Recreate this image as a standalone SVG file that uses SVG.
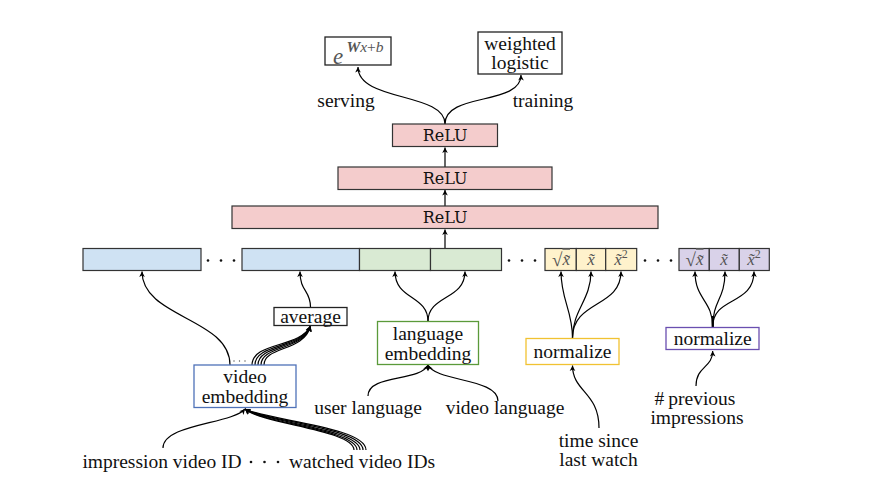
<svg xmlns="http://www.w3.org/2000/svg" width="884" height="482" viewBox="0 0 884 482">
<defs>
<marker id="arr" viewBox="-6 -4 7 8" refX="0" refY="0" markerWidth="7" markerHeight="8" markerUnits="userSpaceOnUse" orient="auto">
<path d="M0,0 L-5.5,-2.8 L-4,0 L-5.5,2.8 Z" fill="#000"/>
</marker>
</defs>
<style>
text{font-family:"Liberation Serif","Times New Roman",serif;fill:#111;text-anchor:middle;dominant-baseline:central}
.lbl{font-size:19.5px}
.relu{font-family:"DejaVu Serif",serif;font-size:16px}
.math{font-style:italic;fill:#555;font-size:17px}
.box{fill:#fff;stroke:#222;stroke-width:1.3}
.cell{stroke:#333;stroke-width:1.2}
.pink{fill:#f4cccc}.blue{fill:#cfe2f3}.green{fill:#d9ead3}.yellow{fill:#fff2cc}.purple{fill:#d9d2e9}
.c{fill:none;stroke:#000;stroke-width:1.2;marker-end:url(#arr)}
.cn{fill:none;stroke:#000;stroke-width:1.2}
.dot{fill:#111}
</style>
<rect width="884" height="482" fill="#fff"/>

<g id="connectors">
<path class="c" d="M445,124 C445,92 358,102 358,67"/>
<path class="c" d="M445,124 C445,92 521,106 521,75"/>
<path class="c" d="M445,167 L445,147.5"/>
<path class="c" d="M445,206 L445,190"/>
<path class="c" d="M445,249 L445,229.5"/>
<path class="c" d="M230,365 C230,318 142,318 142,271.5"/>
<path class="c" d="M310.5,307 C310.5,290 300,292 300,271.5"/>
<path class="c" d="M252,365 C252,342 300,348 310.5,326"/>
<path class="c" d="M255,365 C255,343 301,349 310.5,326"/>
<path class="c" d="M258,365 C258,344 302,350 310.5,326"/>
<path class="c" d="M261,365 C261,345 303,351 310.5,326"/>
<path class="c" d="M264,365 C264,346 304,352 310.5,326"/>
<path class="c" d="M428,321.5 C428,295 395,300 395,271.5"/>
<path class="c" d="M428,321.5 C428,295 465,300 465,271.5"/>
<path class="c" d="M368,396 C368,374 420,382 428,365"/>
<path class="c" d="M498,401 C498,378 436,382 428,365"/>
<path class="c" d="M572.5,338 C572.5,310 561,300 561,271.5"/>
<path class="c" d="M572.5,338 C572.5,310 591,300 591,271.5"/>
<path class="c" d="M572.5,338 C572.5,300 621,308 621,271.5"/>
<path class="c" d="M599,428 C599,392 572.5,392 572.5,365.5"/>
<path class="cn" d="M712.7,327 L712.7,316" style="stroke-width:2.2"/>
<path class="c" d="M712.7,327 C712.7,300 695,300 695,271.5"/>
<path class="c" d="M712.7,327 C712.7,300 725,300 725,271.5"/>
<path class="c" d="M712.7,327 C712.7,296 754,306 754,271.5"/>
<path class="c" d="M696,386 C696,366 712.7,368 712.7,351"/>
<path class="c" d="M163,448 C163,424 232,424 245,409"/>
<path class="c" d="M354,450 C354,430 262,424 245,409"/>
<path class="c" d="M357,450 C357,430 263,423 245,409"/>
<path class="c" d="M360,450 C360,429 264,422 245,409"/>
<path class="c" d="M363,450 C363,428 265,421 245,409"/>
<path class="c" d="M366,450 C366,427 266,420 245,409"/>
</g>

<g id="serving-out">
<rect class="box" x="325" y="37" width="66" height="28"/>
<text x="338" y="56" style="font-style:italic;fill:#555;font-size:23px">e</text>
<text x="365" y="46" style="font-style:italic;fill:#555;font-size:15.5px"><tspan font-weight="bold">W</tspan>x<tspan font-style="normal">+</tspan>b</text>
</g>
<g id="training-out">
<rect class="box" x="478" y="32" width="84" height="42"/>
<text class="lbl" x="520" y="43">weighted</text>
<text class="lbl" x="520" y="62.5">logistic</text>
</g>
<text class="lbl" x="346" y="100">serving</text>
<text class="lbl" x="543" y="100">training</text>

<g id="relu3">
<rect class="cell pink" x="392.5" y="124" width="105" height="22.5"/>
<text class="relu" x="445" y="135.5">ReLU</text>
</g>
<g id="relu2">
<rect class="cell pink" x="338" y="167" width="214" height="22.5"/>
<text class="relu" x="445" y="178.5">ReLU</text>
</g>
<g id="relu1">
<rect class="cell pink" x="232" y="206" width="426" height="22.5"/>
<text class="relu" x="445" y="217.5">ReLU</text>
</g>

<g id="features">
<rect class="cell blue" x="83" y="248.5" width="118" height="22"/>
<circle class="dot" cx="208" cy="260.5" r="1.3"/><circle class="dot" cx="221" cy="260.5" r="1.3"/><circle class="dot" cx="234" cy="260.5" r="1.3"/>
<rect class="cell blue" x="242" y="248.5" width="117.5" height="22"/>
<rect class="cell green" x="359.5" y="248.5" width="71" height="22"/>
<rect class="cell green" x="430.5" y="248.5" width="71" height="22"/>
<circle class="dot" cx="509" cy="260.5" r="1.3"/><circle class="dot" cx="522" cy="260.5" r="1.3"/><circle class="dot" cx="535" cy="260.5" r="1.3"/>
<rect class="cell yellow" x="545" y="248.5" width="31.3" height="22"/>
<rect class="cell yellow" x="576.3" y="248.5" width="29.4" height="22"/>
<rect class="cell yellow" x="605.7" y="248.5" width="31" height="22"/>
<text class="math" x="561" y="259"><tspan font-style="normal" font-size="19" fill="#555">√</tspan><tspan text-decoration="overline">x̃</tspan></text>
<text class="math" x="591" y="259">x̃</text>
<text class="math" x="621" y="259">x̃<tspan font-style="normal" font-size="12" dy="-5">2</tspan></text>
<circle class="dot" cx="645" cy="260.5" r="1.3"/><circle class="dot" cx="658" cy="260.5" r="1.3"/><circle class="dot" cx="671" cy="260.5" r="1.3"/>
<rect class="cell purple" x="679" y="248.5" width="30.3" height="22"/>
<rect class="cell purple" x="709.3" y="248.5" width="30" height="22"/>
<rect class="cell purple" x="739.3" y="248.5" width="30" height="22"/>
<text class="math" x="694.5" y="259"><tspan font-style="normal" font-size="19" fill="#555">√</tspan><tspan text-decoration="overline">x̃</tspan></text>
<text class="math" x="724" y="259">x̃</text>
<text class="math" x="754" y="259">x̃<tspan font-style="normal" font-size="12" dy="-5">2</tspan></text>
</g>

<g id="average">
<rect class="box" x="274" y="307.5" width="73" height="18"/>
<text class="lbl" x="310.5" y="316">average</text>
</g>
<g id="video-embedding">
<rect class="box" x="194" y="365" width="102" height="42.5" style="stroke:#4f72b8"/>
<text class="lbl" x="245" y="376.5">video</text>
<text class="lbl" x="245" y="396">embedding</text>
<circle cx="234" cy="361" r="0.7" fill="#555"/><circle cx="239.5" cy="361" r="0.7" fill="#555"/><circle cx="245" cy="361" r="0.7" fill="#555"/>
</g>
<g id="language-embedding">
<rect class="box" x="377.5" y="321.5" width="101" height="43" style="stroke:#5b9a3a"/>
<text class="lbl" x="428" y="333">language</text>
<text class="lbl" x="428" y="353">embedding</text>
</g>
<g id="normalize-time">
<rect class="box" x="526" y="338.5" width="93" height="26" style="stroke:#f1c232"/>
<text class="lbl" x="572.5" y="351">normalize</text>
</g>
<g id="normalize-impressions">
<rect class="box" x="666" y="327.5" width="93" height="22" style="stroke:#6a4fb0"/>
<text class="lbl" x="712.7" y="338">normalize</text>
</g>

<text class="lbl" x="368" y="407">user language</text>
<text class="lbl" x="505" y="407">video language</text>
<text class="lbl" x="598.5" y="440">time since</text>
<text class="lbl" x="598.5" y="459.5">last watch</text>
<text class="lbl" x="695" y="398">#<tspan dx="4">previous</tspan></text>
<text class="lbl" x="697" y="417.5">impressions</text>
<text class="lbl" x="162" y="461">impression video ID</text>
<circle class="dot" cx="251" cy="462" r="1.3"/><circle class="dot" cx="264.5" cy="462" r="1.3"/><circle class="dot" cx="278" cy="462" r="1.3"/>
<text class="lbl" x="362" y="461">watched video IDs</text>
</svg>
